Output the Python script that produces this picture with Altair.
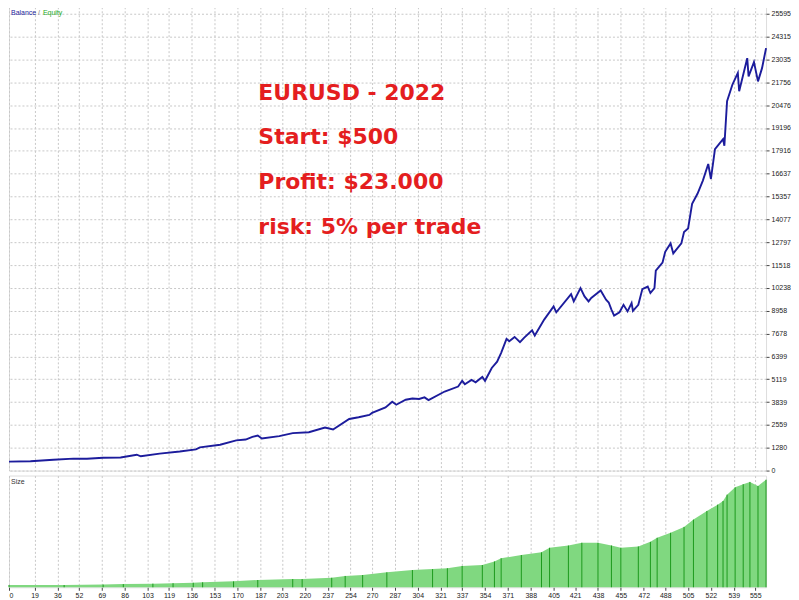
import altair as alt
import pandas as pd

# ---------------- data ----------------
trade_idx = [0, 16, 33, 48, 58, 70, 83, 95, 98, 112, 127, 139, 142, 157, 169, 176, 181, 185, 188,
             201, 211, 223, 235, 241, 253, 260, 268, 270, 280, 285, 288, 295, 300, 305, 309, 312,
             324, 334, 337, 339, 344, 347, 352, 354, 359, 363, 366, 370, 372, 376, 380, 383, 389,
             391, 398, 405, 407, 418, 420, 425, 428, 431, 433, 440, 444, 446, 448, 450, 454, 457,
             460, 463, 464, 468, 471, 475, 477, 480, 481, 486, 488, 492, 494, 500, 502, 505, 508,
             512, 516, 520, 522, 525, 531, 532, 534, 538, 542, 543, 549, 550, 554, 557, 560, 563]
balance = [500, 520, 610, 670, 660, 720, 730, 890, 800, 950, 1070, 1190, 1300, 1450, 1690, 1740, 1890, 1960, 1800,
           1930, 2100, 2150, 2410, 2300, 2890, 2990, 3120, 3230, 3540, 3860, 3690, 3970, 4040, 4010, 4100, 3950,
           4430, 4710, 5030, 4840, 5080, 4950, 5250, 5030, 5750, 6100, 6600, 7380, 7250, 7490, 7200, 7440, 7860,
           7570, 8460, 9200, 8870, 9890, 9480, 10220, 9760, 9480, 9670, 10090, 9570, 9420, 9020, 8680, 8870, 9290,
           8920, 9390, 8950, 9290, 10170, 10310, 9950, 10220, 11200, 11650, 12260, 12730, 12170, 12730, 13370, 13560, 14950,
           15510, 16250, 17180, 16340, 18010, 18570, 18200, 20700, 21630, 22280, 21260, 23110, 22090, 22890, 21810, 22550, 23670]

size_idx = [0, 41, 70, 85, 107, 122, 137, 144, 167, 185, 211, 218, 240, 250, 263, 281, 300, 315, 326,
            337, 352, 361, 366, 381, 396, 402, 416, 426, 438, 448, 455, 468, 477, 482, 492, 502, 509,
            519, 527, 531, 534, 540, 546, 551, 557, 563]
size_lots = [0.05, 0.05, 0.06, 0.07, 0.08, 0.09, 0.10, 0.11, 0.13, 0.16, 0.18, 0.18, 0.21, 0.25, 0.27, 0.33, 0.38, 0.40, 0.42,
             0.47, 0.49, 0.57, 0.64, 0.71, 0.77, 0.87, 0.92, 0.98, 0.98, 0.92, 0.87, 0.90, 1.00, 1.09, 1.20, 1.33, 1.49,
             1.68, 1.82, 1.90, 2.04, 2.20, 2.27, 2.32, 2.23, 2.37]

x_ticks = [0, 19, 36, 52, 69, 86, 103, 119, 136, 153, 170, 187, 203, 220, 237, 254, 270, 287, 304, 321,
           337, 354, 371, 388, 405, 421, 438, 455, 472, 488, 505, 522, 539, 555]
y_ticks = [0, 1280, 2559, 3839, 5119, 6399, 7678, 8958, 10238, 11518, 12797, 14077, 15357, 16637,
           17916, 19196, 20476, 21756, 23035, 24315, 25595]

annotation_lines = ["EURUSD - 2022", "Start: $500", "Profit: $23.000", "risk: 5% per trade"]

# ---------------- chart ----------------
bal_df = pd.DataFrame({"trade": trade_idx, "balance": balance})
size_df = pd.DataFrame({"trade": size_idx, "size": size_lots})
ann_df = pd.DataFrame({"t": ["\n".join(annotation_lines)]})

W = 759
X_MAX = 563
xscale = alt.Scale(domain=[0, X_MAX], nice=False, zero=False)
FONT = "Liberation Sans"
GRID = "#c8c8c8"
DASH = [2, 2]

bottom_x_axis = alt.Axis(values=x_ticks, title=None, grid=True, gridColor=GRID, gridDash=DASH,
                         domain=False, tickSize=3, tickColor="#444", labelPadding=1,
                         labelOverlap=False, labelFlush=True, labelBound=False,
                         labelFontSize=7, labelFont=FONT, labelColor="#222", format="d")

line = alt.Chart(bal_df).mark_line(color="#1c1c9c", strokeWidth=1.9).encode(
    x=alt.X("trade:Q", scale=xscale,
            axis=alt.Axis(values=x_ticks, labels=False, ticks=False, domain=False, grid=True,
                          gridColor=GRID, gridDash=DASH, title=None)),
    y=alt.Y("balance:Q", scale=alt.Scale(domain=[0, 25990], nice=False, zero=True),
            axis=alt.Axis(orient="right", values=y_ticks, title=None, grid=True, gridColor=GRID,
                          gridDash=DASH, domain=False, tickSize=3, tickColor="#444",
                          labelPadding=2, labelFontSize=7, labelFont=FONT, labelColor="#222",
                          format="d")),
)

ann = alt.Chart(ann_df).mark_text(
    align="left", baseline="top", font="DejaVu Sans", fontWeight="bold", fontSize=22,
    color="#e41e20", lineBreak="\n", lineHeight=45,
).encode(text="t:N", x=alt.value(250), y=alt.value(76))

lbl_bal = alt.Chart(ann_df).mark_text(align="left", baseline="top", font=FONT, fontSize=7,
                                      color="#1c1c9c").encode(text=alt.value("Balance"), x=alt.value(2), y=alt.value(2))
lbl_sl = alt.Chart(ann_df).mark_text(align="left", baseline="top", font=FONT, fontSize=7,
                                     color="#777").encode(text=alt.value("/"), x=alt.value(29), y=alt.value(2))
lbl_eq = alt.Chart(ann_df).mark_text(align="left", baseline="top", font=FONT, fontSize=7,
                                     color="#22aa22").encode(text=alt.value("Equity"), x=alt.value(34), y=alt.value(2))

top = alt.layer(line, ann, lbl_bal, lbl_sl, lbl_eq).properties(width=W, height=465)

area = alt.Chart(size_df).mark_area(color="#80d880", opacity=1).encode(
    x=alt.X("trade:Q", scale=xscale, axis=bottom_x_axis),
    y=alt.Y("size:Q", scale=alt.Scale(domain=[0, 2.46], nice=False), axis=None),
)
rules = alt.Chart(size_df).mark_rule(color="#1d9a1d", strokeWidth=1).encode(
    x=alt.X("trade:Q", scale=xscale, axis=bottom_x_axis),
    y=alt.Y("size:Q", axis=None), y2=alt.datum(0)
)
lbl_size = alt.Chart(ann_df).mark_text(align="left", baseline="top", font=FONT, fontSize=7,
                                       color="#333").encode(text=alt.value("Size"), x=alt.value(2), y=alt.value(2))

bottom = alt.layer(area, rules, lbl_size).properties(width=W, height=112)

chart = alt.vconcat(top, bottom, spacing=0).properties(
    padding={"left": -4, "top": -3, "right": 0, "bottom": 0}
).configure_view(stroke="#555", strokeWidth=1).configure_axisX(
    labelOverlap=False
).configure(background="white")

chart.save("out.html", embed_options={"renderer": "svg", "actions": False})
